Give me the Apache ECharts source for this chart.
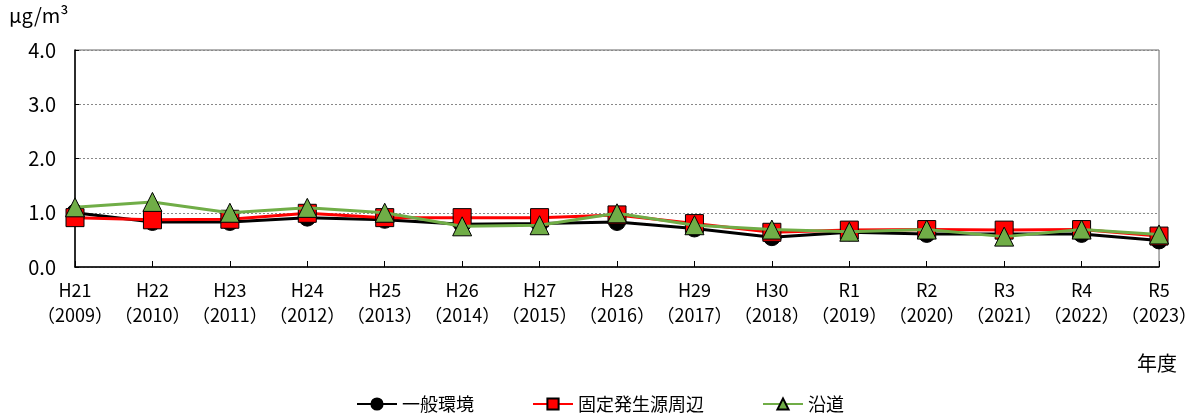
<!DOCTYPE html>
<html>
<head>
<meta charset="utf-8">
<title>年度推移</title>
<script src="https://cdn.jsdelivr.net/npm/echarts@6/dist/echarts.min.js"></script>
<style>
	* { margin: 0; padding: 0; }
	html, body { width: 1200px; height: 417px; background: #fff; }
	#main { width: 1200px; height: 417px; }
</style>
</head>
<body>
<div id="main"></div>
<script type="text/javascript">
	// 和暦・西暦
	var eraYears = ['H21', 'H22', 'H23', 'H24', 'H25', 'H26', 'H27', 'H28', 'H29', 'H30', 'R1', 'R2', 'R3', 'R4', 'R5'];
	var westYears = ['2009', '2010', '2011', '2012', '2013', '2014', '2015', '2016', '2017', '2018', '2019', '2020', '2021', '2022', '2023'];

	// 測定値（μg/m³）
	var ippan = [1.00, 0.83, 0.83, 0.91, 0.87, 0.79, 0.80, 0.83, 0.71, 0.55, 0.64, 0.61, 0.61, 0.61, 0.49];
	var kotei = [0.91, 0.87, 0.88, 0.99, 0.91, 0.91, 0.91, 0.96, 0.80, 0.64, 0.68, 0.69, 0.68, 0.69, 0.57];
	var endo  = [1.10, 1.20, 1.00, 1.09, 1.00, 0.75, 0.77, 0.99, 0.77, 0.69, 0.65, 0.69, 0.56, 0.69, 0.60];

	var yTicks = [0, 1, 2, 3, 4];

	var categories = [];
	for (var i = 0; i < eraYears.length; i++) {
		categories.push(eraYears[i] + '\n（' + westYears[i] + '）');
	}

	var FONT = '"Noto Sans CJK JP", sans-serif';
	var myChart = echarts.init(document.getElementById('main'));

	var option = {
		animation: false,
		textStyle: { fontFamily: FONT, color: '#000' },
		grid: {
			left: 75, right: 35, top: 50, bottom: 150,
			show: true,
			borderColor: '#666',
			borderWidth: 1
		},
		graphic: [
			{ type: 'text', left: 9, top: 5, style: { text: 'μg/m³', font: '20px ' + FONT, fill: '#000' } },
			{ type: 'text', left: 1137, top: 353, style: { text: '年度', font: '20px ' + FONT, fill: '#000' } }
		],
		legend: {
			bottom: -1,
			left: 'center',
			itemWidth: 40,
			itemHeight: 14,
			itemGap: 58,
			textStyle: { fontSize: 18, fontFamily: FONT, color: '#000' },
			data: ['一般環境', '固定発生源周辺', '沿道']
		},
		xAxis: {
			type: 'category',
			boundaryGap: false,
			data: categories,
			axisLine: { lineStyle: { color: '#000', width: 1.5 } },
			axisTick: { inside: true, length: 6, lineStyle: { color: '#000' } },
			axisLabel: {
				interval: 0,
				hideOverlap: false,
				margin: 11,
				fontSize: 18,
				lineHeight: 25,
				color: '#000',
				fontFamily: FONT
			},
			splitLine: { show: false }
		},
		yAxis: {
			type: 'value',
			min: yTicks[0],
			max: yTicks[yTicks.length - 1],
			interval: 1,
			axisLine: { show: true, lineStyle: { color: '#000', width: 1.5 } },
			axisTick: { show: true, inside: true, length: 4, lineStyle: { color: '#000' } },
			axisLabel: {
				fontSize: 20,
				color: '#000',
				margin: 19,
				formatter: function (v) { return v.toFixed(1); }
			},
			splitLine: { show: true, lineStyle: { color: '#888', type: [2, 2], width: 1 } }
		},
		series: [
			{
				name: '一般環境',
				type: 'line',
				data: ippan,
				symbol: 'circle',
				symbolSize: 17,
				lineStyle: { color: '#000', width: 3 },
				itemStyle: { color: '#000', borderColor: '#000', borderWidth: 1 },
				z: 2
			},
			{
				name: '固定発生源周辺',
				type: 'line',
				data: kotei,
				symbol: 'rect',
				symbolSize: 18,
				lineStyle: { color: '#ff0000', width: 3 },
				itemStyle: { color: '#ff0000', borderColor: '#000', borderWidth: 1 },
				z: 3
			},
			{
				name: '沿道',
				type: 'line',
				data: endo,
				symbol: 'triangle',
				symbolSize: 19,
				lineStyle: { color: '#70ad47', width: 3 },
				itemStyle: { color: '#70ad47', borderColor: '#000', borderWidth: 1 },
				z: 4
			}
		]
	};

	myChart.setOption(option);
</script>
</body>
</html>
